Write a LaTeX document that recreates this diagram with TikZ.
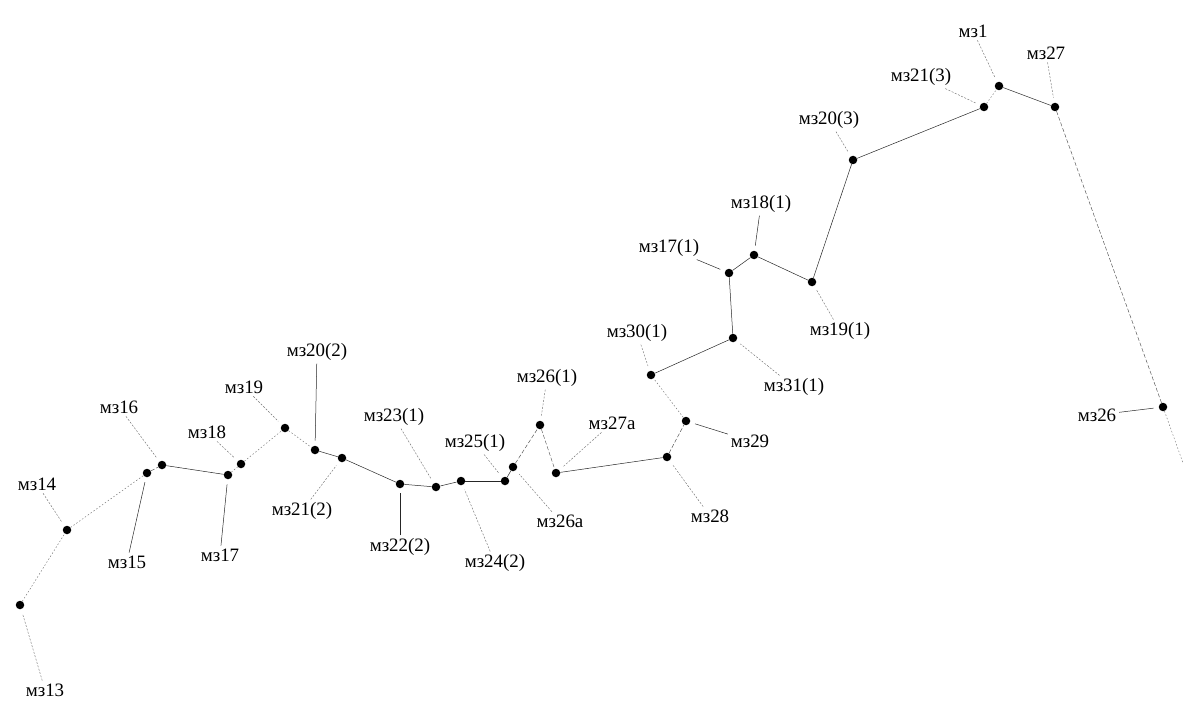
\documentclass[tikz,border=0pt]{standalone}
\usepackage{fontspec}
\setmainfont{Liberation Serif}
\begin{document}
\begin{tikzpicture}[x=1bp,y=-1bp,
  pt/.style={circle,fill=black,inner sep=0pt,minimum size=8.5bp},
  lab/.style={font=\fontsize{19}{22}\selectfont,inner sep=1bp,outer sep=2bp},
  solidl/.style={draw=black!85,line width=0.5bp},
  faint/.style={draw=black!55,line width=0.45bp,dash pattern=on 1.5bp off 2bp},
  dashl/.style={draw=black!70,line width=0.45bp,dash pattern=on 4bp off 2bp},
  lead/.style={draw=black!55,line width=0.45bp,dash pattern=on 2bp off 1.5bp,shorten >=5bp},
  leads/.style={draw=black!85,line width=0.5bp,shorten >=5bp}]
\useasboundingbox (0,0) rectangle (1191,712);
% points
\node[pt] (p13) at (20,605) {};
\node[pt] (p14) at (67,530) {};
\node[pt] (p15) at (147,473) {};
\node[pt] (p16) at (162,465) {};
\node[pt] (p17) at (228,475) {};
\node[pt] (p18) at (241,464) {};
\node[pt] (p19) at (285,428) {};
\node[pt] (p20b) at (315,450) {};
\node[pt] (p21b) at (342,458) {};
\node[pt] (p22b) at (400,484) {};
\node[pt] (p23a) at (436,487) {};
\node[pt] (p24b) at (461,481) {};
\node[pt] (p25a) at (505,481) {};
\node[pt] (p26x) at (513,467) {};
\node[pt] (p26a) at (540,425) {};
\node[pt] (p27x) at (556,473) {};
\node[pt] (p28) at (667,457) {};
\node[pt] (p29) at (686,421) {};
\node[pt] (p30a) at (651,375) {};
\node[pt] (p31a) at (733,338) {};
\node[pt] (p17a) at (729,273) {};
\node[pt] (p18a) at (754,255) {};
\node[pt] (p19a) at (812,282) {};
\node[pt] (p20c) at (853,160) {};
\node[pt] (p21c) at (984,107) {};
\node[pt] (p1) at (999,86) {};
\node[pt] (p27) at (1055,107) {};
\node[pt] (p26) at (1163,407) {};
\coordinate (tail) at (1183,463);
% labels
\node[lab] (l13) at (45,690) {мз13};
\node[lab] (l14) at (37,484) {мз14};
\node[lab] (l15) at (127,562) {мз15};
\node[lab] (l16) at (119,407) {мз16};
\node[lab] (l17) at (220,555) {мз17};
\node[lab] (l18) at (207,432) {мз18};
\node[lab] (l19) at (244,387) {мз19};
\node[lab] (l20b) at (317,352) {мз20(2)};
\node[lab] (l21b) at (302,511) {мз21(2)};
\node[lab] (l22b) at (400,547) {мз22(2)};
\node[lab] (l23a) at (394,417) {мз23(1)};
\node[lab] (l24b) at (495,563) {мз24(2)};
\node[lab] (l25a) at (475,443) {мз25(1)};
\node[lab] (l26a) at (547,378) {мз26(1)};
\node[lab] (l26x) at (560,521) {мз26а};
\node[lab] (l27x) at (612,423) {мз27а};
\node[lab] (l28) at (710,516) {мз28};
\node[lab] (l29) at (750,441) {мз29};
\node[lab] (l30a) at (637,333) {мз30(1)};
\node[lab] (l31a) at (794,387) {мз31(1)};
\node[lab] (l17a) at (669,248) {мз17(1)};
\node[lab] (l18a) at (761,204) {мз18(1)};
\node[lab] (l19a) at (840,331) {мз19(1)};
\node[lab] (l20c) at (829,120) {мз20(3)};
\node[lab] (l21c) at (921,77) {мз21(3)};
\node[lab] (l1) at (973,31) {мз1};
\node[lab] (l27) at (1046,53) {мз27};
\node[lab] (l26) at (1097,415) {мз26};
% chain
\draw[faint] (p13) -- (p14);
\draw[faint] (p14) -- (p15);
\draw[dashl] (p15) -- (p16);
\draw[solidl] (p16) -- (p17);
\draw[faint] (p17) -- (p18);
\draw[faint] (p18) -- (p19);
\draw[faint] (p19) -- (p20b);
\draw[solidl] (p20b) -- (p21b);
\draw[solidl] (p21b) -- (p22b);
\draw[solidl] (p22b) -- (p23a);
\draw[solidl] (p23a) -- (p24b);
\draw[solidl] (p24b) -- (p25a);
\draw[solidl] (p25a) -- (p26x);
\draw[dashl] (p26x) -- (p26a);
\draw[dashl] (p26a) -- (p27x);
\draw[solidl] (p27x) -- (p28);
\draw[dashl] (p28) -- (p29);
\draw[faint] (p29) -- (p30a);
\draw[solidl] (p30a) -- (p31a);
\draw[solidl] (p31a) -- (p17a);
\draw[solidl] (p17a) -- (p18a);
\draw[solidl] (p18a) -- (p19a);
\draw[solidl] (p19a) -- (p20c);
\draw[solidl] (p20c) -- (p21c);
\draw[faint] (p21c) -- (p1);
\draw[solidl] (p1) -- (p27);
\draw[dashl] (p27) -- (p26);
\draw[faint] (p26) -- (tail);
% leaders
\draw[lead] (l13) -- (p13);
\draw[lead] (l14) -- (p14);
\draw[leads] (l15) -- (p15);
\draw[lead] (l16) -- (p16);
\draw[leads] (l17) -- (p17);
\draw[lead] (l18) -- (p18);
\draw[lead] (l19) -- (p19);
\draw[leads] (l20b) -- (p20b);
\draw[lead] (l21b) -- (p21b);
\draw[leads] (l22b) -- (p22b);
\draw[lead] (l23a) -- (p23a);
\draw[lead] (l24b) -- (p24b);
\draw[lead] (l25a) -- (p25a);
\draw[lead] (l26a) -- (p26a);
\draw[lead] (l26x) -- (p26x);
\draw[lead] (l27x) -- (p27x);
\draw[lead] (l28) -- (p28);
\draw[leads] (l29) -- (p29);
\draw[lead] (l30a) -- (p30a);
\draw[lead] (l31a) -- (p31a);
\draw[leads] (l17a) -- (p17a);
\draw[leads] (l18a) -- (p18a);
\draw[lead] (l19a) -- (p19a);
\draw[lead] (l20c) -- (p20c);
\draw[lead] (l21c) -- (p21c);
\draw[lead] (l1) -- (p1);
\draw[lead] (l27) -- (p27);
\draw[leads] (l26) -- (p26);
\end{tikzpicture}
\end{document}
